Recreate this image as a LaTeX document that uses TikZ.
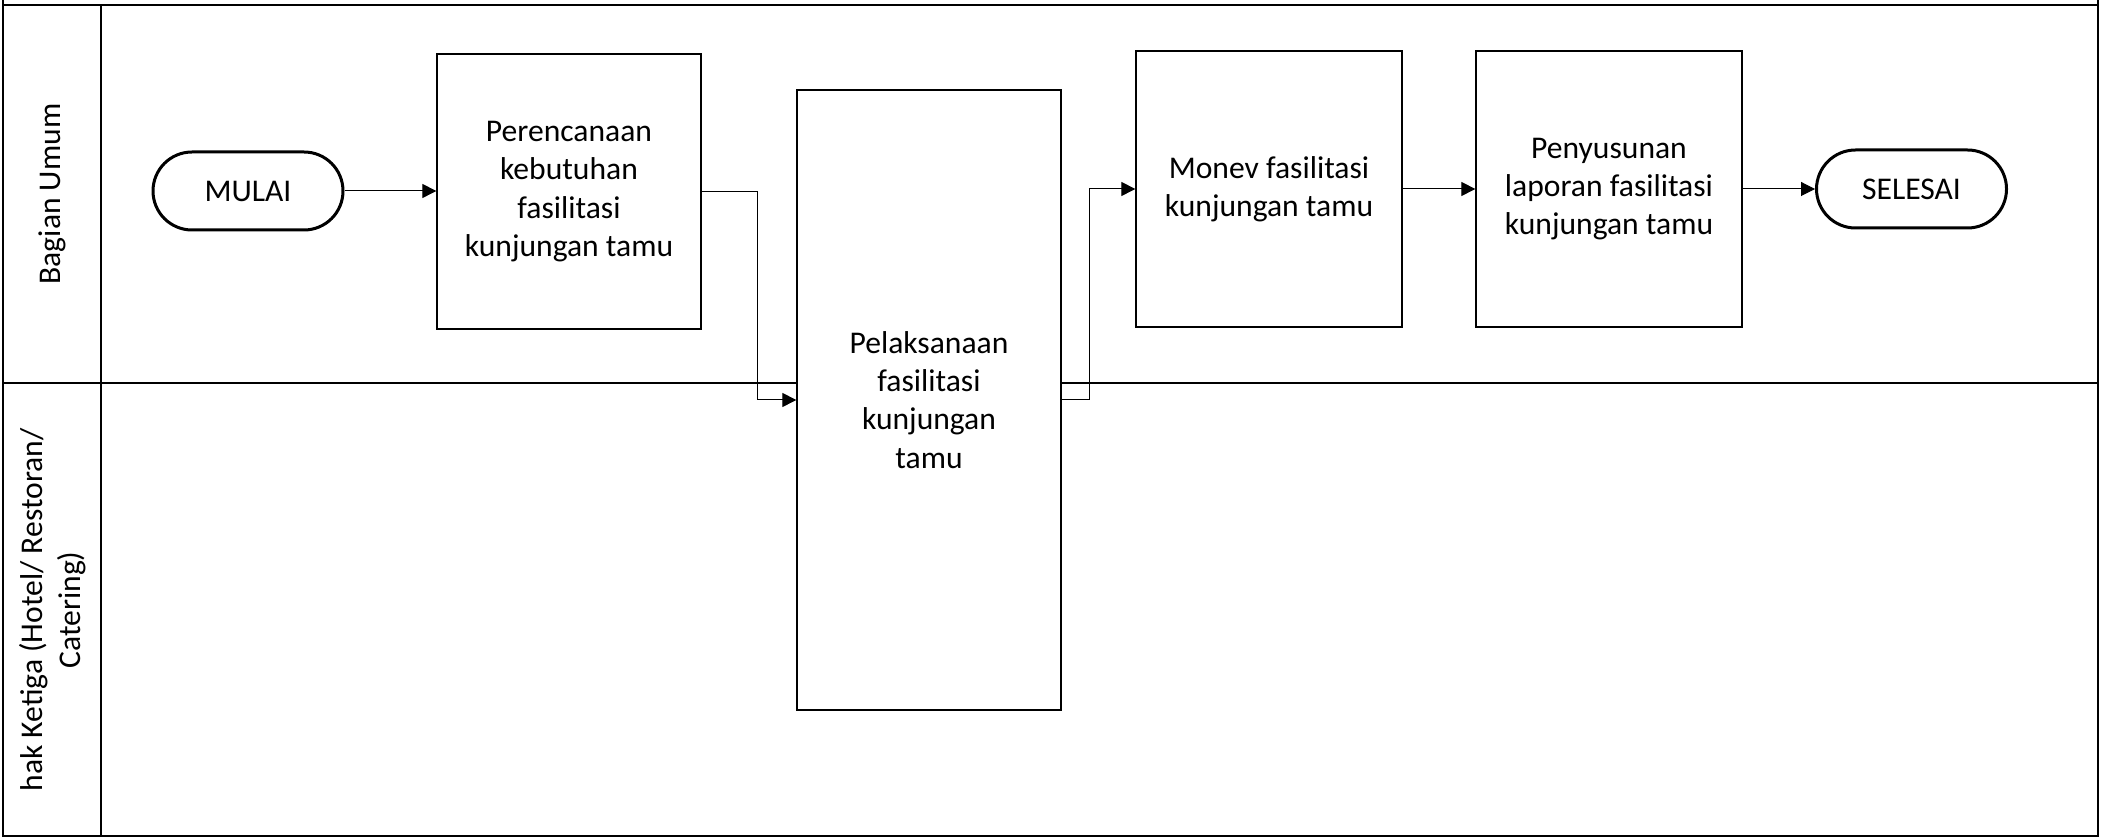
\documentclass[tikz,border=0pt]{standalone}
\usepackage{fontspec}
\setmainfont{Carlito}
\usetikzlibrary{arrows.meta}
\tikzset{
	lane/.style={line width=0.8pt},
	proc/.style={draw, fill=white, line width=0.65pt, align=center, minimum width=132pt, inner sep=0pt},
	term/.style={draw, fill=white, line width=1.5pt, rounded corners=19.5pt, minimum width=95pt, minimum height=39pt},
	flow/.style={line width=0.5pt, -{Triangle[length=7pt,width=7pt]}}
}

\begin{document}
\begin{tikzpicture}[x=0.5pt, y=-0.5pt, font=\fontsize{15.8}{19.1}\selectfont]
	\useasboundingbox (0,0) rectangle (2103,838);
	\draw[lane] (3,0) -- (3,836) -- (2098,836) -- (2098,0);
	\draw[lane] (3,5) -- (2098,5);
	\draw[lane] (3,383) -- (2098,383);
	\draw[lane] (101,5) -- (101,836);
	\node[rotate=90] (umum) at (52,194) {Bagian Umum};
	\node[rotate=90, align=center] (ketiga) at (53,610) {hak Ketiga (Hotel/ Restoran/\\Catering)};

	\node[term] (mulai) at (248,191) {MULAI};
	\node[proc, minimum height=137.5pt] (rencana) at (569,191.5) {Perencanaan\\kebutuhan\\fasilitasi\\kunjungan tamu};
	\node[proc, minimum height=310pt] (laksana) at (929,400) {Pelaksanaan\\fasilitasi\\kunjungan\\tamu};
	\node[proc, minimum width=133pt, minimum height=138pt] (monev) at (1269,189) {Monev fasilitasi\\kunjungan tamu};
	\node[proc, minimum width=133pt, minimum height=138pt] (susun) at (1609,189) {Penyusunan\\laporan fasilitasi\\kunjungan tamu};
	\node[term] (selesai) at (1911.5,189) {SELESAI};

	\path[draw,flow] (mulai) -- (mulai -| rencana.west);
	\path[draw,flow] (rencana.east) -- ++(56,0) |- (laksana.west);
	\path[draw,flow] (laksana.east) -- ++(28,0) |- (monev.west);
	\path[draw,flow] (monev) -- (susun);
	\path[draw,flow] (susun) -- (selesai);
\end{tikzpicture}
\end{document}
